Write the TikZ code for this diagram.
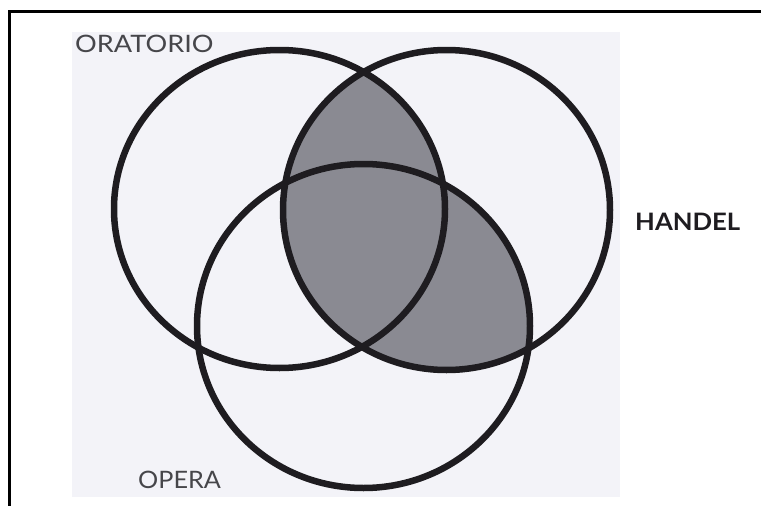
\documentclass[tikz,border=0pt]{standalone}
\usepackage{fontspec}
\setmainfont{Lato}
\usepackage{graphicx}
\definecolor{paper}{RGB}{243,243,248}
\definecolor{dotgrey}{RGB}{138,138,146}
\definecolor{ink}{RGB}{30,28,32}
\definecolor{labelgrey}{RGB}{70,70,74}
\begin{document}
\begin{tikzpicture}[x=1pt,y=-1pt,
  ring/.style={draw=ink,line width=6.5pt},
  lbl/.style={anchor=base west,inner sep=0pt,font=\fontsize{24}{24}\selectfont}]
\useasboundingbox (0,0) rectangle (761,506);
\fill[white] (0,0) rectangle (761,506);
\fill[paper] (72,32) rectangle (620,497);
\draw[line width=3pt,line join=miter] (761,11.7) -- (9,11.7) -- (9,506);
% shaded region: right circle intersected with (left union bottom)
\begin{scope}
  \clip (446.5,210) ellipse [x radius=163.5,y radius=160];
  \fill[fill=dotgrey] (279.5,209) ellipse [x radius=165.5,y radius=159];
  \fill[fill=dotgrey] (363.5,326) ellipse [x radius=166.5,y radius=162];
\end{scope}
\draw[ring] (279.5,209) ellipse [x radius=165.5,y radius=159];
\draw[ring] (446.5,210) ellipse [x radius=163.5,y radius=160];
\draw[ring] (363.5,326) ellipse [x radius=166.5,y radius=162];
\node[lbl,text=labelgrey] (oratorio) at (75,52) {\scalebox{1.13}[1]{ORATORIO}};
\node[lbl,text=ink,font=\fontsize{24}{24}\selectfont\bfseries] (handel) at (635,230) {\scalebox{1.07}[1]{HANDEL}};
\node[lbl,text=labelgrey] (opera) at (138,488) {\scalebox{1.05}[1]{OPERA}};
\end{tikzpicture}
\end{document}
